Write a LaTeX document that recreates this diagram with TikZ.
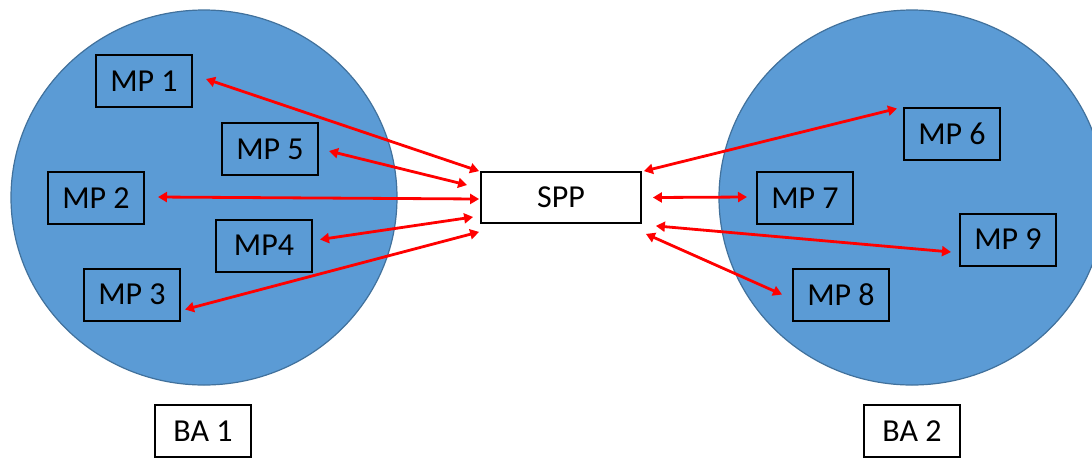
\documentclass[tikz,border=0pt]{standalone}
\usepackage{fontspec}
\setmainfont{Carlito}
\usetikzlibrary{arrows.meta,calc,shapes.geometric}
\definecolor{zonefill}{HTML}{5B9BD5}
\definecolor{zoneline}{HTML}{41719C}

\begin{document}
\begin{tikzpicture}
[x=0.5pt,y=-0.5pt,
font=\fontsize{16}{19}\selectfont,
zone/.style={ellipse,draw=zoneline,fill=zonefill,line width=0.6pt,
minimum width=193pt,minimum height=187.5pt,inner sep=0pt},
mpbox/.style={draw,line width=1pt,minimum width=48pt,minimum height=26pt,inner sep=0pt},
sppbox/.style={draw,fill=white,line width=0.9pt,minimum width=80pt,minimum height=25.5pt,inner sep=0pt},
link/.style={red,line width=1.4pt,{Triangle[length=4.5pt,width=5pt]}-{Triangle[length=4.5pt,width=5pt]}}]
\clip (0,0) rectangle (1092,457);

\node (zone1) at (204,197.5) [zone] {};
\node (zone2) at (912,197.5) [zone] {};

\node (spp) at (561,197.5) [sppbox] {SPP};

\node (mp1) at (144,81) [mpbox] {MP 1};
\node (mp5) at (270,149) [mpbox] {MP 5};
\node (mp2) at (96,198) [mpbox] {MP 2};
\node (mp4) at (264,245.5) [mpbox] {MP4};
\node (mp3) at (132,294.5) [mpbox] {MP 3};

\node (mp6) at (952,133.5) [mpbox] {MP 6};
\node (mp7) at (805,198) [mpbox] {MP 7};
\node (mp9) at (1008,239.5) [mpbox] {MP 9};
\node (mp8) at (841,294.5) [mpbox] {MP 8};

\node (ba1) at (203,431) [sppbox,minimum width=48pt,minimum height=26pt] {BA 1};
\node (ba2) at (912,431) [sppbox,minimum width=48pt,minimum height=26pt] {BA 2};

% left side
\draw[link] ($(mp1.east)+(13,-2)$) -- ($(spp.north west)+(-1,0)$);
\draw[link] ($(mp5.east)+(10,2)$) -- ($(spp.west)+(-13,-12.5)$);
\draw[link] ($(mp2.east)+(13,-1)$) -- ($(spp.west)+(-1,1.5)$);
\draw[link] ($(mp4.east)+(7,-6)$) -- ($(spp.west)+(-7,19.5)$);
\draw[link] ($(mp3.east)+(4,15)$) -- ($(spp.south west)+(-1,8)$);

% right side
\draw[link] ($(spp.north east)+(2,0)$) -- ($(mp6.north west)+(-6,2)$);
\draw[link] ($(spp.east)+(11,0)$) -- ($(mp7.west)+(-9,-1)$);
\draw[link] ($(spp.south east)+(14,2)$) -- ($(mp9.west)+(-8,12.5)$);
\draw[link] ($(spp.south east)+(4,10)$) -- ($(mp8.west)+(-10,0)$);

\end{tikzpicture}
\end{document}
